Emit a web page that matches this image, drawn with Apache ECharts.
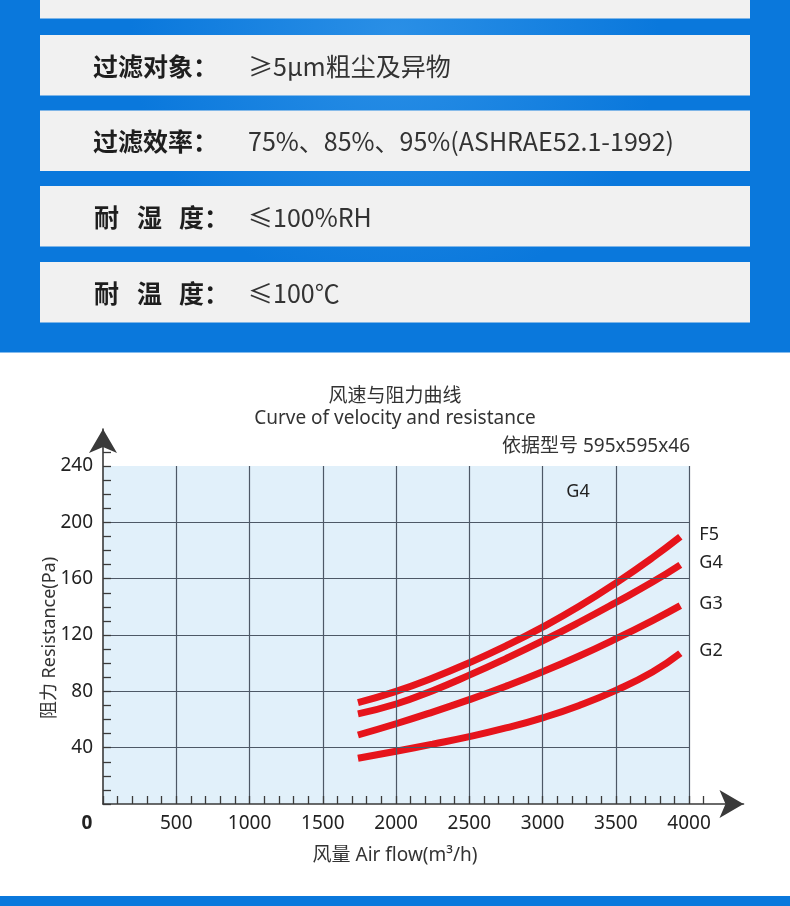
<!DOCTYPE html>
<html><head><meta charset="utf-8">
<script src="https://cdn.jsdelivr.net/npm/echarts@6/dist/echarts.min.js"></script>
<style>html,body{margin:0;padding:0;background:#fff}#c{width:790px;height:906px}</style>
</head><body><div id="c"></div>
<script>
// ---- data ----
const airflow = [1740, 2000, 2250, 2500, 2750, 3000, 3250, 3500, 3750, 3940];
const f5 = [72, 80, 89.5, 100.3, 112.3, 125.6, 140.4, 156.9, 174.9, 189.8];
const g4 = [64, 71, 80.5, 91.5, 103.3, 115.8, 129.1, 143.1, 157.6, 169.8];
const g3 = [49, 57, 65.3, 74.1, 83.6, 93.9, 105.1, 117.3, 130.3, 140.9];
const g2 = [32.5, 37.5, 42.5, 47.8, 54, 61.2, 70, 80.7, 93.7, 107];
const seriesNames = ['F5', 'G4', 'G3', 'G2'];
const xGridValues = [500, 1000, 1500, 2000, 2500, 3000, 3500, 4000];
const yGridValues = [40, 80, 120, 160, 200];
const specLabels = ['过滤对象：', '过滤效率：', '耐湿度：', '耐温度：'];
const specValues = ['≥5μm粗尘及异物', '75%、85%、95%(ASHRAE52.1-1992)', '≤100%RH', '≤100℃'];
const titleCn = '风速与阻力曲线';
const titleEn = 'Curve of velocity and resistance';
const modelText = '依据型号 595x595x46';
const xName = '风量 Air flow(m³/h)';
const yName = '阻力 Resistance(Pa)';
const innerTag = 'G4';

// ---- layout ----
const chart = echarts.init(document.getElementById('c'), null, {renderer: 'canvas'});
const boxTops = [35, 110.5, 186, 262];
const boxH = 60.5;
const cjk = '"Noto Sans CJK SC", sans-serif';
const latin = '"Noto Sans", "Noto Sans CJK SC", sans-serif';

const graphics = [];
graphics.push({type: 'rect', z: -10, shape: {x: 0, y: 0, width: 790, height: 352.5},
  style: {fill: {type: 'radial', x: 0.5, y: 0.1, r: 0.75, colorStops: [
    {offset: 0, color: '#2a8fe6'}, {offset: 1, color: '#0a78dc'}]}}, silent: true});
graphics.push({type: 'rect', z: -10, shape: {x: 0, y: 896, width: 790, height: 10}, style: {fill: '#0a78dc'}, silent: true});
graphics.push({type: 'rect', z: -9, shape: {x: 40, y: -5, width: 710, height: 23.5}, style: {fill: '#f1f1f1'}, silent: true});
boxTops.forEach((t, i) => {
  graphics.push({type: 'rect', z: -9, shape: {x: 40, y: t, width: 710, height: boxH}, style: {fill: '#f1f1f1'}, silent: true});
  const cy = t + boxH / 2 + 1;
  const lab = specLabels[i];
  if (lab.length === 5) {
    graphics.push({type: 'text', z: -8, x: 93, y: cy, style: {text: lab, font: 'bold 25px ' + cjk, fill: '#1e1e1e', textVerticalAlign: 'middle', verticalAlign: 'middle'}});
  } else {
    const parts = [lab[0], lab[1], lab.slice(2)];
    const xs = [94, 137, 179];
    parts.forEach((p, k) => graphics.push({type: 'text', z: -8, x: xs[k], y: cy, style: {text: p, font: 'bold 25px ' + cjk, fill: '#1e1e1e', textVerticalAlign: 'middle', verticalAlign: 'middle'}}));
  }
  graphics.push({type: 'text', z: -8, x: 248, y: cy, style: {text: specValues[i], font: '25px ' + cjk, fill: '#333', textVerticalAlign: 'middle', verticalAlign: 'middle'}});
});
graphics.push({type: 'text', x: 395, y: 395, style: {text: titleCn, font: '19px ' + cjk, fill: '#333', textAlign: 'center', textVerticalAlign: 'middle', verticalAlign: 'middle'}});
graphics.push({type: 'text', x: 395, y: 419, style: {text: titleEn, font: '19px ' + latin, fill: '#333', textAlign: 'center', textVerticalAlign: 'middle', verticalAlign: 'middle'}});
graphics.push({type: 'text', x: 690, y: 447, style: {text: modelText, font: '19px ' + latin, fill: '#333', textAlign: 'right', textVerticalAlign: 'middle', verticalAlign: 'middle'}});
graphics.push({type: 'text', x: 395, y: 856, style: {text: xName, font: '19px ' + latin, fill: '#333', textAlign: 'center', textVerticalAlign: 'middle', verticalAlign: 'middle'}});
graphics.push({type: 'text', x: 50, y: 638, rotation: Math.PI / 2, style: {text: yName, font: '18px ' + latin, fill: '#333', textAlign: 'center', textVerticalAlign: 'middle', verticalAlign: 'middle'}});
graphics.push({type: 'text', x: 578, y: 492, z: 10, style: {text: innerTag, font: '18px ' + latin, fill: '#222', textAlign: 'center', textVerticalAlign: 'middle', verticalAlign: 'middle'}});

const curveData = [f5, g4, g3, g2];
const axisColor = '#3a3a3a';
const curves = seriesNames.map((n, si) => ({
  type: 'line', name: n, z: 4, silent: true, animation: false,
  xAxisIndex: 0, yAxisIndex: 0,
  data: airflow.map((x, i) => [x, curveData[si][i]]),
  smooth: 0.5, symbol: 'none', showSymbol: false,
  lineStyle: {color: '#e6141b', width: 7, cap: 'butt'},
  endLabel: {show: true, formatter: '{a}', distance: 19, offset: [0, -2], fontSize: 18, fontFamily: 'Noto Sans', color: '#222'}
}));

const arrowAxisCommon = {
  type: 'value', min: 0, z: 7,
  axisTick: {show: false}, axisLabel: {show: false}, splitLine: {show: false}
};

chart.setOption({
  animation: false,
  backgroundColor: '#ffffff',
  graphic: graphics,
  grid: [
    {left: 103, right: 71.6, top: 452, bottom: 102, containLabel: false, outerBoundsMode: 'none'},
    {left: 103, right: 46.5, top: 429, bottom: 102, containLabel: false, outerBoundsMode: 'none'}
  ],
  xAxis: [{
    type: 'value', min: 0, max: 4200, interval: 100, z: 6, gridIndex: 0,
    axisLine: {show: false, onZero: false},
    axisTick: {show: true, inside: true, length: 8, lineStyle: {color: axisColor, width: 1.3}},
    axisLabel: {margin: 10, fontSize: 19, fontFamily: 'Noto Sans', color: '#222', showMinLabel: true, showMaxLabel: false,
      formatter: v => v === 0 ? '{o|0}' : ((v % 500 === 0 && v <= 4000) ? String(v) : ''),
      rich: {o: {fontSize: 19, fontFamily: 'Noto Sans', fontWeight: 'bold', color: '#222', padding: [0, 32, 0, 0]}}},
    splitLine: {show: false}
  }, Object.assign({}, arrowAxisCommon, {
    gridIndex: 1, max: 4371,
    axisLine: {show: true, onZero: false, symbol: ['none', 'arrow'], symbolSize: [21, 24], symbolOffset: 0, lineStyle: {color: axisColor, width: 1.6}}
  })],
  yAxis: [{
    type: 'value', min: 0, max: 250, interval: 10, z: 6, gridIndex: 0,
    axisLine: {show: false, onZero: false},
    axisTick: {show: true, inside: true, length: 8, lineStyle: {color: axisColor, width: 1.3}},
    axisLabel: {margin: 10, fontSize: 19, fontFamily: 'Noto Sans', color: '#222',
      formatter: v => (v > 0 && v % 40 === 0 && v <= 240) ? String(v) : ''},
    splitLine: {show: false}
  }, Object.assign({}, arrowAxisCommon, {
    gridIndex: 1, max: 266,
    axisLine: {show: true, onZero: false, symbol: ['none', 'arrow'], symbolSize: [21, 24], symbolOffset: 0, lineStyle: {color: axisColor, width: 1.6}}
  })],
  series: [
    {type: 'line', name: 'bg', data: [], z: 1, silent: true, xAxisIndex: 0, yAxisIndex: 0,
      markArea: {silent: true, itemStyle: {color: '#e1f0fa'}, data: [[{xAxis: 0, yAxis: 0}, {xAxis: 4000, yAxis: 240}]]}},
    {type: 'line', name: 'grid', data: [], z: 2, silent: true, xAxisIndex: 0, yAxisIndex: 0,
      markLine: {silent: true, animation: false, symbol: ['none', 'none'], label: {show: false},
        lineStyle: {color: '#4d5866', width: 1.2, type: 'solid'},
        data: [...xGridValues.map(v => [{coord: [v, 0]}, {coord: [v, 240]}]),
               ...yGridValues.map(v => [{coord: [0, v]}, {coord: [4000, v]}])]}},
    ...curves
  ]
});
</script></body></html>
